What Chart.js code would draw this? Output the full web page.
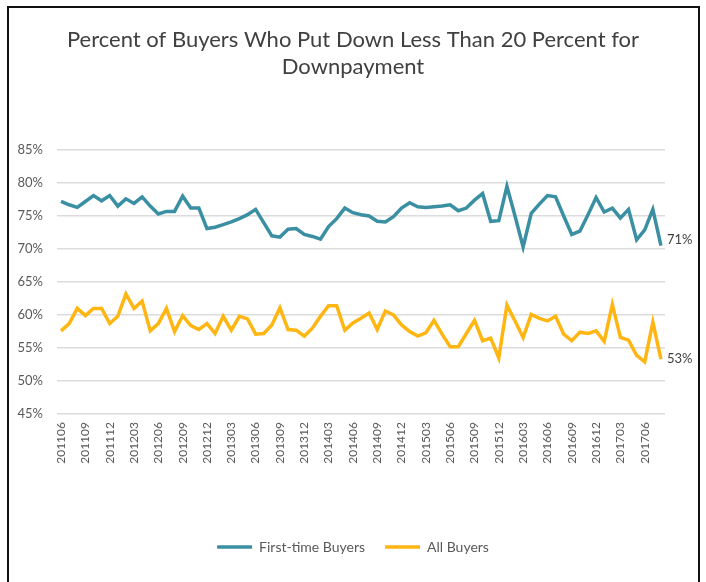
<!DOCTYPE html>
<html><head><meta charset="utf-8">
<script src="https://cdn.jsdelivr.net/npm/chart.js@4"></script>
<style>
html,body{margin:0;padding:0;background:#fff;}
#wrap{position:relative;width:706px;height:582px;overflow:hidden;background:#fff;}
#frame{position:absolute;left:7px;top:6px;width:693px;height:620px;border:2px solid #111;box-sizing:border-box;}
canvas{position:absolute;left:0;top:0;}
</style></head><body>
<div id="wrap"><div id="frame"></div><canvas id="c" width="706" height="582"></canvas></div>
<script>
const months = [
 "201106","201107","201108","201109","201110","201111","201112",
 "201201","201202","201203","201204","201205","201206","201207","201208","201209","201210","201211","201212",
 "201301","201302","201303","201304","201305","201306","201307","201308","201309","201310","201311","201312",
 "201401","201402","201403","201404","201405","201406","201407","201408","201409","201410","201411","201412",
 "201501","201502","201503","201504","201505","201506","201507","201508","201509","201510","201511","201512",
 "201601","201602","201603","201604","201605","201606","201607","201608","201609","201610","201611","201612",
 "201701","201702","201703","201704","201705","201706","201707","201708"
];
const tickLabels = ["201106","201109","201112","201203","201206","201209","201212","201303","201306","201309","201312","201403","201406","201409","201412","201503","201506","201509","201512","201603","201606","201609","201612","201703","201706"];
const firstTimeBuyers = [
 77.2,76.7,76.3,77.2,78.1,77.3,78.1,76.5,77.6,76.9,77.9,76.5,75.3,75.7,75.7,78.0,76.2,76.2,73.1,73.3,
 73.7,74.1,74.6,75.2,76.0,74.0,72.0,71.8,73.0,73.1,72.2,71.9,71.5,73.4,74.6,76.2,75.5,75.2,75.0,74.2,
 74.1,74.9,76.2,77.0,76.4,76.3,76.4,76.5,76.7,75.8,76.2,77.4,78.4,74.2,74.3,79.5,75.0,70.3,75.4,76.8,
 78.1,77.9,75.0,72.2,72.7,75.2,77.8,75.6,76.2,74.7,76.0,71.4,72.9,76.0,70.5
];
const allBuyers = [
 57.6,58.7,61.0,59.9,61.0,61.0,58.7,59.8,63.2,61.0,62.1,57.6,58.7,61.0,57.5,59.9,58.4,57.8,58.7,57.2,
 59.8,57.7,59.8,59.4,57.1,57.2,58.5,61.1,57.8,57.7,56.8,58.0,59.8,61.4,61.4,57.7,58.8,59.5,60.3,57.8,
 60.6,60.0,58.5,57.5,56.8,57.3,59.2,57.1,55.2,55.2,57.2,59.2,56.1,56.5,53.5,61.5,59.1,56.6,60.1,59.5,
 59.1,59.8,57.1,56.1,57.4,57.2,57.6,56.0,61.6,56.6,56.2,53.9,52.9,58.9,53.3
];
const seriesNames = ["First-time Buyers","All Buyers"];
const endLabels = ["71%","53%"];
const yTicks = [45,50,55,60,65,70,75,80,85];

const FONT = "Lato, 'Open Sans', sans-serif";
const endLabelPlugin = {
  id:'endLabelPlugin',
  afterDatasetsDraw(chart){
    const ctx = chart.ctx;
    const dy = [-6, 0];
    chart.data.datasets.forEach((ds,i)=>{
      const meta = chart.getDatasetMeta(i);
      const pt = meta.data[meta.data.length-1];
      ctx.save();
      ctx.font = "13px " + FONT;
      ctx.fillStyle = "#404040";
      ctx.textBaseline = "middle";
      ctx.textAlign = "left";
      ctx.fillText(endLabels[i], pt.x + 6, pt.y + dy[i]);
      ctx.restore();
    });
  }
};

new Chart(document.getElementById('c'), {
  type:'line',
  data:{
    labels: months,
    datasets:[
      {label:seriesNames[0], data:firstTimeBuyers, borderColor:'#3a8fa3', backgroundColor:'#3a8fa3', borderWidth:3.5, pointRadius:0, pointStyle:'line', tension:0},
      {label:seriesNames[1], data:allBuyers, borderColor:'#ffb612', backgroundColor:'#ffb612', borderWidth:3.5, pointRadius:0, pointStyle:'line', tension:0}
    ]
  },
  options:{
    responsive:false,
    animation:false,
    layout:{padding:{left:0,right:0,top:0,bottom:18}},
    plugins:{
      title:{display:true, text:["Percent of Buyers Who Put Down Less Than 20 Percent for","Downpayment"],
        color:'#404040', font:{family:FONT, size:22, weight:'normal', lineHeight:1.25}, padding:{top:26,bottom:69}},
      legend:{position:'bottom', labels:{usePointStyle:true, pointStyleWidth:35, color:'#595959', font:{family:FONT,size:14}, padding:20}},
      tooltip:{enabled:false}
    },
    scales:{
      x:{
        offset:true,
        grid:{display:false, drawTicks:false},
        border:{display:false},
        afterFit(s){ s.height = 106; },
        ticks:{autoSkip:false, maxRotation:90, minRotation:90, padding:8, color:'#595959', font:{family:FONT,size:12},
          callback(v,i){ const l = months[i]; return tickLabels.includes(l) ? l : ''; }}
      },
      y:{
        min:45, max:85,
        afterFit(s){ s.width = 57; },
        afterBuildTicks(s){ s.ticks = yTicks.map(v=>({value:v})); },
        grid:{color:'#dcdcdc', lineWidth:1.5, drawTicks:false},
        border:{display:false},
        ticks:{padding:14, color:'#595959', font:{family:FONT,size:13}, callback:v=>v+'%'}
      },
      yR:{
        type:'linear', position:'right', min:45, max:85,
        afterFit(s){ s.width = 41; },
        grid:{display:false, drawTicks:false},
        border:{display:false},
        ticks:{display:false}
      }
    }
  },
  plugins:[endLabelPlugin]
});
</script>
</body></html>
